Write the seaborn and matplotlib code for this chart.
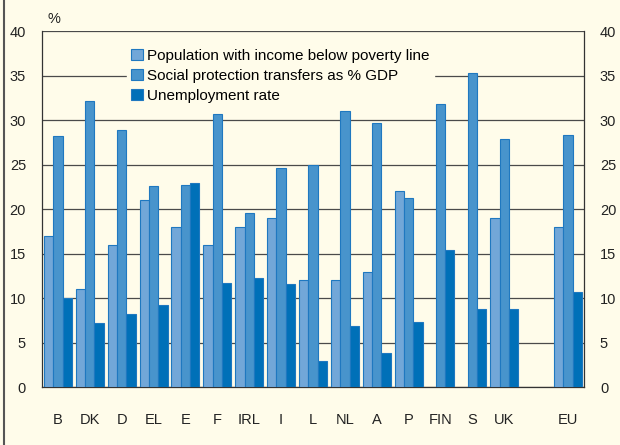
import pandas as pd
import numpy as np
import matplotlib
matplotlib.use("Agg")
import matplotlib.pyplot as plt
from matplotlib.lines import Line2D
import seaborn as sns

# Data
countries = ["B", "DK", "D", "EL", "E", "F", "IRL", "I", "L", "NL", "A", "P",
             "FIN", "S", "UK", "EU"]
poverty = [17, 11, 16, 21, 18, 16, 18, 19, 12, 12, 13, 22, np.nan, np.nan, 19, 18]
social = [28.2, 32.2, 28.9, 22.6, 22.7, 30.7, 19.6, 24.6, 25.0, 31.0, 29.7, 21.3,
          31.8, 35.3, 27.9, 28.3]
unemployment = [10.0, 7.2, 8.2, 9.2, 22.9, 11.7, 12.3, 11.6, 2.9, 6.9, 3.9, 7.3,
                15.4, 8.8, 8.8, 10.7]
series_names = ["Population with income below poverty line",
                "Social protection transfers as % GDP",
                "Unemployment rate"]
# blank slot before EU
x_order = countries[:-1] + [" "] + ["EU"]

wide = pd.DataFrame({"country": countries,
                     series_names[0]: poverty,
                     series_names[1]: social,
                     series_names[2]: unemployment})
df = wide.melt(id_vars="country", var_name="series", value_name="value").dropna()

bg = "#fffcea"
colors = ["#72a7d8", "#4894cc", "#0070b8"]

plt.rcParams["font.family"] = ["Liberation Sans", "DejaVu Sans"]
fig = plt.figure(figsize=(6.2, 4.45), dpi=100, facecolor=bg)
ax = fig.add_axes([0.0677, 0.1297, 0.8742, 0.8003])
ax.set_facecolor(bg)

sns.barplot(data=df, x="country", y="value", hue="series", order=x_order,
            hue_order=series_names, palette=colors, saturation=1, width=0.875,
            errorbar=None, edgecolor="#1f78c0", linewidth=0.8, ax=ax, zorder=3)

ax.set_ylim(0, 40)
ax.set_yticks(range(0, 41, 5))
ax.yaxis.grid(True, color="#4a4a4a", linewidth=0.9, zorder=0)
ax.set_axisbelow(True)
ax.set_xlabel("")
ax.set_ylabel("")
for side in ["left", "right", "bottom"]:
    ax.spines[side].set_color("#333333")
    ax.spines[side].set_linewidth(0.9)
ax.spines["top"].set_visible(False)
ax.tick_params(axis="y", left=False, right=False, labelleft=True, labelright=True,
               labelsize=10.5, pad=8, colors="#222222")
ax.tick_params(axis="x", bottom=False, labelsize=10.5, pad=15, colors="#222222")

handles, labels = ax.get_legend_handles_labels()
ax.get_legend().remove()
leg = ax.legend(handles, labels, loc="upper left", bbox_to_anchor=(0.142, 0.985),
                frameon=True, facecolor=bg, edgecolor=bg, framealpha=1,
                fontsize=11, handlelength=0.75, handleheight=0.75,
                handletextpad=0.3, labelspacing=0.4, borderpad=0.3)
leg.set_zorder(5)

fig.text(0.087, 0.958, "%", fontsize=10.5, ha="center", va="center", color="#222222")
fig.add_artist(Line2D([0.007, 0.007], [0, 1], transform=fig.transFigure,
                      color="#555555", linewidth=1.5))

fig.savefig("out.png", dpi=100, facecolor=bg)
